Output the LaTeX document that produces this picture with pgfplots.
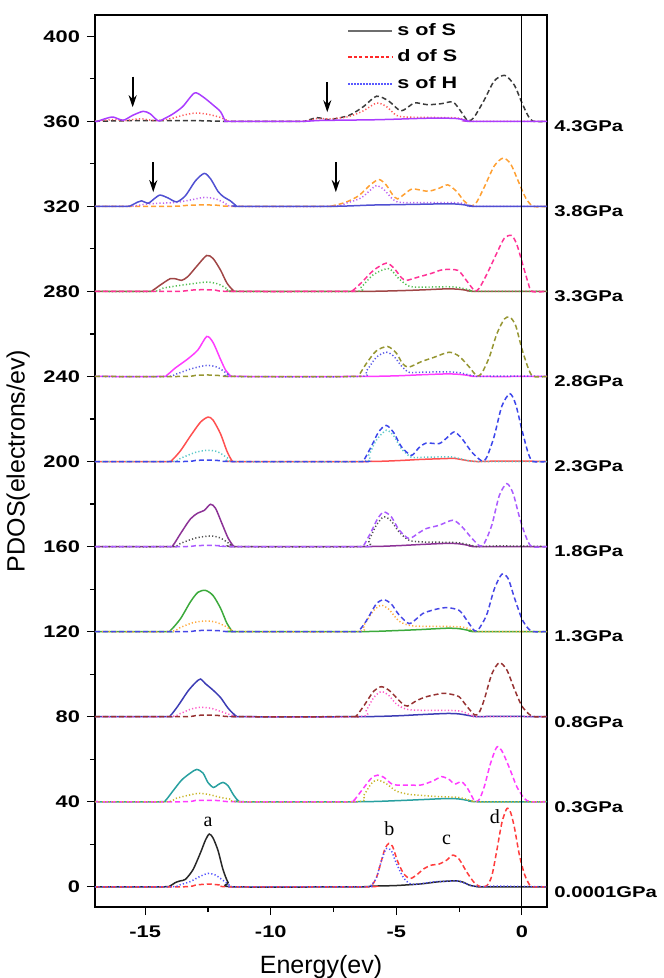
\documentclass[border=0pt]{standalone}
\usepackage{pgfplots}
\pgfplotsset{compat=1.18}
\usepackage{fontspec}
\setmainfont{Liberation Sans}
\newfontfamily\boldwide[FakeStretch=1.3]{Liberation Sans Bold}
\newfontfamily\serifl{Liberation Serif}
\usetikzlibrary{arrows.meta}
\definecolor{c0s}{RGB}{40,40,40}\definecolor{c0d}{RGB}{255,60,60}\definecolor{c0h}{RGB}{80,80,255}
\definecolor{c1s}{RGB}{40,160,160}\definecolor{c1d}{RGB}{255,60,255}\definecolor{c1h}{RGB}{200,180,40}
\definecolor{c2s}{RGB}{60,60,180}\definecolor{c2d}{RGB}{150,50,50}\definecolor{c2h}{RGB}{255,90,200}
\definecolor{c3s}{RGB}{60,170,60}\definecolor{c3d}{RGB}{70,70,230}\definecolor{c3h}{RGB}{255,170,60}
\definecolor{c4s}{RGB}{140,50,150}\definecolor{c4d}{RGB}{170,90,255}\definecolor{c4h}{RGB}{80,80,80}
\definecolor{c5s}{RGB}{255,80,80}\definecolor{c5d}{RGB}{60,70,235}\definecolor{c5h}{RGB}{90,200,200}
\definecolor{c6s}{RGB}{255,60,255}\definecolor{c6d}{RGB}{150,150,50}\definecolor{c6h}{RGB}{90,90,230}
\definecolor{c7s}{RGB}{160,70,70}\definecolor{c7d}{RGB}{255,50,150}\definecolor{c7h}{RGB}{80,190,80}
\definecolor{c8s}{RGB}{80,80,210}\definecolor{c8d}{RGB}{255,160,50}\definecolor{c8h}{RGB}{190,100,240}
\definecolor{c9s}{RGB}{170,60,255}\definecolor{c9d}{RGB}{60,60,60}\definecolor{c9h}{RGB}{255,90,90}
\definecolor{legS}{RGB}{110,110,110}\definecolor{legD}{RGB}{255,40,40}\definecolor{legH}{RGB}{90,90,255}
\pgfplotsset{
  sS/.style={solid, line width=0.75pt, smooth, tension=0.45},
  dS/.style={line width=0.75pt, dash pattern=on 2.5pt off 1.5pt, smooth, tension=0.45},
  sH/.style={line width=0.75pt, dash pattern=on 0.6pt off 1.1pt, smooth, tension=0.45},
  off/.style={y filter/.expression={y+#1}},
}
\tikzset{
  plab/.style={anchor=west, inner sep=0pt, xshift=3.5pt, yshift=-2.5pt, font=\boldwide\fontsize{7.8}{9.4}\selectfont},
  plet/.style={font=\serifl\fontsize{10}{12}\selectfont},
  parr/.style={line width=1pt, -{Stealth[length=6pt,width=4pt]}},
}
\begin{document}
\begin{tikzpicture}
\begin{axis}[
  scale only axis, width=226pt, height=446pt,
  xmin=-17, xmax=1, ymin=-9.5, ymax=410,
  clip=false,
  axis line style={line width=1pt},
  xtick={-15,-10,-5,0}, ytick={0,40,...,400},
  minor x tick num=1, minor y tick num=1,
  tick pos=left, tick align=outside,
  major tick length=4pt, minor tick length=2.5pt,
  every tick/.style={line width=0.6pt, black},
  /pgf/number format/assume math mode=true,
  ticklabel style={font=\boldwide\fontsize{8.4}{10}\selectfont},
  xticklabel style={yshift=-2pt},
  xlabel={Energy(ev)}, ylabel={PDOS(electrons/ev)},
  label style={font=\fontsize{12.5}{15}\selectfont},
  xlabel style={yshift=-2pt},
  legend style={draw=none, fill=none, at={(0.553,0.998)}, anchor=north west,
    font=\boldwide\fontsize{8.3}{10}\selectfont, row sep=1.8pt, inner sep=1pt},
  legend cell align=left,
  legend image code/.code={\draw[#1] (0pt,0pt) -- (22pt,0pt);},
]
\addlegendimage{legS, line width=1pt}
\addlegendentry{s of S}
\addlegendimage{legD, line width=0.9pt, dash pattern=on 1.6pt off 1.1pt}
\addlegendentry{d of S}
\addlegendimage{legH, line width=0.9pt, dash pattern=on 0.6pt off 0.9pt}
\addlegendentry{s of H}
% ---- 0.0001 GPa (offset 0)
\addplot[sS, c0s, forget plot] coordinates {(-17,0) (-14.3,0) (-14.0,0.5) (-13.8,2) (-13.6,2.8) (-13.4,3.5) (-13.1,8) (-12.8,16) (-12.6,22) (-12.45,24.8) (-12.3,23) (-12.1,17) (-11.9,8) (-11.7,2) (-11.5,0) (-6.5,0) (-6,0.3) (-5,0.6) (-4,1.4) (-3.3,2.4) (-2.6,2.8) (-2.3,2.0) (-2.1,0.8) (-1.8,0.1) (-1.5,0) (1,0)};
\addplot[dS, c0d, forget plot] coordinates {(-17,0) (-13.5,0) (-13.0,0.8) (-12.5,1.3) (-12.0,0.8) (-11.6,0) (-6.2,0) (-6.0,0.5) (-5.8,4) (-5.6,12) (-5.45,18) (-5.3,20.4) (-5.15,19) (-4.95,12) (-4.7,6) (-4.45,3.9) (-4.2,5.5) (-3.9,8.5) (-3.6,10.2) (-3.3,10.7) (-3.0,12.5) (-2.75,14.9) (-2.5,13) (-2.2,7) (-1.9,2) (-1.65,0) (-1.4,0.5) (-1.2,5) (-1.0,17) (-0.8,30) (-0.6,36.8) (-0.45,35) (-0.3,28) (-0.1,15) (0.1,6) (0.3,1) (0.45,0) (1,0)};
\addplot[sH, c0h, forget plot] coordinates {(-17,0) (-14.0,0) (-13.6,1) (-13.2,2.5) (-12.8,5) (-12.5,6.3) (-12.2,5.5) (-11.9,3) (-11.6,0.5) (-11.4,0) (-6.3,0) (-6.0,0.8) (-5.8,4) (-5.6,12) (-5.4,18) (-5.2,17) (-5.0,11) (-4.7,4) (-4.4,1.2) (-4.0,1.5) (-3.5,2.3) (-3.0,2.6) (-2.6,2.8) (-2.3,1.8) (-2.0,0.5) (-1.7,0.1) (-1,0.3) (0,0.2) (1,0)};
% ---- 0.3 GPa (offset 40)
\addplot[sS, c1s, off=40, forget plot] coordinates {(-17,0) (-14.4,0) (-14.2,0.5) (-13.9,5) (-13.55,10.2) (-13.2,13.5) (-12.95,15.2) (-12.7,13.5) (-12.5,9) (-12.28,6.7) (-12.1,8) (-11.9,9.1) (-11.7,7.5) (-11.5,3.5) (-11.3,0.5) (-11.1,0) (-6.5,0) (-5,0.5) (-4,1) (-3,1.5) (-2.5,1.3) (-2.0,0.3) (-1.8,0) (1,0)};
\addplot[dS, c1d, off=40, forget plot] coordinates {(-17,0) (-13.5,0) (-13,0.6) (-12.5,0.7) (-12,0.5) (-11.4,0) (-6.9,0) (-6.7,0.5) (-6.4,5) (-6.0,11) (-5.75,12.5) (-5.5,11.5) (-5.2,8.5) (-4.95,7.8) (-4.5,7.8) (-4.0,7.9) (-3.5,10) (-3.2,11.8) (-2.9,10.5) (-2.68,8.3) (-2.4,9.4) (-2.15,6) (-1.88,0.3) (-1.7,1) (-1.5,7) (-1.25,18) (-1.0,25.7) (-0.8,24) (-0.5,16) (-0.2,7) (0.1,1.5) (0.35,0) (1,0)};
\addplot[sH, c1h, off=40, forget plot] coordinates {(-17,0) (-14.2,0) (-13.8,1.5) (-13.3,3) (-12.9,3.9) (-12.5,3.5) (-12.0,2) (-11.6,1.2) (-11.2,0) (-6.6,0) (-6.3,3) (-6.0,8.5) (-5.75,10.2) (-5.4,8.5) (-5.0,5) (-4.5,3.5) (-4.0,3) (-3.5,2.5) (-3.0,2.3) (-2.5,2) (-2.0,0.5) (-1.8,0) (1,0)};
% ---- 0.8 GPa (offset 80)
\addplot[sS, c2s, off=80, forget plot] coordinates {(-17,0) (-14.2,0) (-14.0,0.5) (-13.7,5) (-13.3,12) (-13.0,16) (-12.8,17.7) (-12.6,15.5) (-12.3,12.5) (-12.0,9) (-11.7,4) (-11.4,0.5) (-11.2,0) (-6.5,0) (-5,0.4) (-4,1.0) (-3,1.5) (-2.5,1.3) (-2.0,0.3) (-1.8,0) (-1,0.2) (0,0.1) (1,0)};
\addplot[sH, c2h, off=80, forget plot] coordinates {(-17,0) (-14.1,0) (-13.6,1.5) (-13.2,3.5) (-12.8,4.4) (-12.4,4) (-12.0,2.5) (-11.5,0.5) (-11.2,0) (-6.5,0) (-6.2,3) (-5.9,9) (-5.6,11.8) (-5.3,10) (-5.0,6) (-4.6,3.5) (-4.0,3) (-3.0,3) (-2.4,2.5) (-2.0,0.5) (-1.8,0) (1,0)};
\addplot[dS, c2d, off=80, forget plot] coordinates {(-17,0) (-13.5,0) (-13,0.5) (-12.6,0.8) (-12,0.5) (-11.4,0) (-6.8,0) (-6.6,0.3) (-6.3,5) (-5.9,12) (-5.6,14.1) (-5.3,12.5) (-5.0,9) (-4.75,6) (-4.55,5) (-4.2,7.5) (-3.8,9.4) (-3.15,11) (-2.8,10.5) (-2.5,9.4) (-2.2,5) (-1.88,0.8) (-1.7,2) (-1.5,8) (-1.2,20) (-0.9,25.4) (-0.6,22) (-0.3,13) (0,5) (0.3,1) (0.45,0) (1,0)};
% ---- 1.3 GPa (offset 120)
\addplot[sS, c3s, off=120, forget plot] coordinates {(-17,0) (-14.2,0) (-14.0,0.5) (-13.6,6) (-13.2,14) (-12.9,18.5) (-12.6,19.4) (-12.3,17) (-12.0,11) (-11.75,4) (-11.55,0.5) (-11.4,0) (-6.5,0) (-5,0.5) (-4,1.0) (-3,1.6) (-2.5,1.4) (-2.0,0.3) (-1.8,0) (1,0)};
\addplot[sH, c3h, off=120, forget plot] coordinates {(-17,0) (-14.1,0) (-13.6,2) (-13.1,4.2) (-12.6,5) (-12.2,4.5) (-11.8,2.5) (-11.5,0.3) (-11.3,0) (-6.6,0) (-6.3,3) (-5.9,10) (-5.6,12.4) (-5.3,10.5) (-4.9,5) (-4.5,3) (-4.0,2.5) (-3.0,2.5) (-2.3,2) (-1.9,0.3) (-1.7,0) (1,0)};
\addplot[dS, c3d, off=120, forget plot] coordinates {(-17,0) (-13.5,0) (-13,0.4) (-12.6,0.6) (-12,0.4) (-11.5,0) (-6.7,0) (-6.5,0.3) (-6.2,5) (-5.8,13) (-5.5,15) (-5.2,13) (-4.9,8) (-4.5,3.8) (-4.2,6) (-3.95,8.5) (-3.5,10.3) (-3.0,11.3) (-2.5,10) (-2.2,5.5) (-1.88,0.3) (-1.7,1.5) (-1.4,8) (-1.1,20) (-0.8,27) (-0.55,25) (-0.3,16) (0,6) (0.25,1.5) (0.45,0) (1,0)};
% ---- 1.8 GPa (offset 160)
\addplot[sS, c4s, off=160, forget plot] coordinates {(-17,0) (-14.1,0) (-13.9,0.5) (-13.6,6) (-13.2,13) (-12.9,15.8) (-12.65,17) (-12.4,19.9) (-12.2,18) (-11.95,11) (-11.7,4) (-11.5,0.5) (-11.35,0) (-6.3,0) (-5,0.4) (-4,1.0) (-3,1.5) (-2.5,1.3) (-2.0,0.3) (-1.8,0) (1,0)};
\addplot[sH, c4h, off=160, forget plot] coordinates {(-17,0) (-14.0,0) (-13.6,1.5) (-13.0,4) (-12.4,5) (-12.0,4) (-11.6,1) (-11.4,0) (-6.4,0) (-6.1,3) (-5.8,10) (-5.5,14) (-5.2,12) (-4.9,7) (-4.5,3) (-4.0,2.2) (-3.0,2) (-2.5,1.8) (-2.0,0.5) (-1.8,0) (-1,0.3) (0,0.2) (1,0)};
\addplot[dS, c4d, off=160, forget plot] coordinates {(-17,0) (-13.5,0) (-13,0.4) (-12.4,0.6) (-11.9,0.3) (-11.5,0) (-6.4,0) (-6.3,0.5) (-6.0,7) (-5.75,13) (-5.5,16.3) (-5.2,14) (-4.9,8) (-4.5,3.8) (-4.1,6.5) (-3.8,8.5) (-3.3,10) (-2.75,12.4) (-2.4,9.5) (-2.0,4) (-1.68,0.3) (-1.5,1.5) (-1.2,10) (-0.9,24) (-0.6,29.6) (-0.35,25) (-0.1,14) (0.15,5) (0.39,0) (1,0)};
% ---- 2.3 GPa (offset 200)
\addplot[sS, c5s, off=200, forget plot] coordinates {(-17,0) (-14.15,0) (-13.95,0.5) (-13.6,5) (-13.2,12) (-12.8,18.5) (-12.5,20.9) (-12.3,19.5) (-12.0,13) (-11.75,5) (-11.55,0.5) (-11.4,0) (-6.3,0) (-5,0.4) (-4,1.0) (-3,1.4) (-2.7,1.5) (-2.2,0.5) (-1.8,0) (-1,0.2) (0,0.2) (1,0)};
\addplot[sH, c5h, off=200, forget plot] coordinates {(-17,0) (-14.0,0) (-13.6,1.5) (-13.0,4.3) (-12.5,5.3) (-12.1,4.5) (-11.7,1.5) (-11.4,0) (-6.4,0) (-6.1,3) (-5.8,10) (-5.4,14.7) (-5.1,12) (-4.8,6) (-4.4,2) (-4.0,2) (-3.0,2.2) (-2.7,2.0) (-2.2,0.6) (-1.8,0) (1,0)};
\addplot[dS, c5d, off=200, forget plot] coordinates {(-17,0) (-13.5,0) (-13,0.5) (-12.5,0.7) (-12,0.4) (-11.5,0) (-6.4,0) (-6.3,0.5) (-6.0,7) (-5.7,14) (-5.4,17) (-5.1,13.5) (-4.8,7) (-4.4,2.9) (-4.1,6.5) (-3.8,8.7) (-3.3,8.4) (-3.0,11) (-2.7,13.9) (-2.4,11) (-2.0,4.5) (-1.6,0.3) (-1.4,2) (-1.1,12) (-0.8,26) (-0.48,31.9) (-0.25,27) (0,15) (0.25,4) (0.45,0) (1,0)};
% ---- 2.8 GPa (offset 240)
\addplot[sS, c6s, off=240, forget plot] coordinates {(-17,0) (-14.35,0) (-14.15,0.5) (-13.8,4) (-13.3,8.3) (-12.9,12.5) (-12.55,18.8) (-12.3,16) (-12.0,8) (-11.8,3) (-11.6,0.3) (-11.45,0) (-6.5,0) (-5,0.3) (-4,0.8) (-3,1.2) (-2.5,1) (-2.0,0.3) (-1.8,0) (1,0)};
\addplot[sH, c6h, off=240, forget plot] coordinates {(-17,0) (-14.2,0) (-13.8,1) (-13.2,3.5) (-12.55,5.2) (-12.1,4.2) (-11.7,1) (-11.5,0) (-6.5,0) (-6.2,2.5) (-5.8,9) (-5.4,11.4) (-5.1,9.5) (-4.8,5) (-4.5,2) (-4.0,2) (-3.0,2.2) (-2.5,1.8) (-2.0,0.4) (-1.8,0) (-1,0.2) (0,0.2) (1,0)};
\addplot[dS, c6d, off=240, forget plot] coordinates {(-17,0) (-13.5,0) (-13,0.5) (-12.5,0.7) (-12,0.4) (-11.5,0) (-6.7,0) (-6.5,0.5) (-6.2,6) (-5.8,12) (-5.35,14.1) (-5.0,11) (-4.75,6) (-4.5,4.4) (-4.0,7) (-3.5,9) (-2.9,11.4) (-2.5,9.5) (-2.1,4.5) (-1.8,0.3) (-1.6,1.5) (-1.3,9) (-1.0,20) (-0.7,27) (-0.48,27.9) (-0.25,24) (0,13) (0.25,4) (0.45,0) (1,0)};
% ---- 3.3 GPa (offset 280)
\addplot[sS, c7s, off=280, forget plot] coordinates {(-17,0) (-14.9,0) (-14.7,0.5) (-14.4,3) (-14.0,6) (-13.75,5.8) (-13.55,5.2) (-13.3,7) (-12.9,12.5) (-12.55,16.9) (-12.3,15.5) (-12.0,10) (-11.75,4) (-11.5,0.5) (-11.35,0) (-6.5,0) (-5,0.3) (-4,0.7) (-3,1.2) (-2.5,1.0) (-2.0,0.2) (-1.8,0) (1,0)};
\addplot[sH, c7h, off=280, forget plot] coordinates {(-17,0) (-14.7,0) (-14.3,1.5) (-13.8,2.5) (-13.2,3.5) (-12.55,4.4) (-12.1,3.5) (-11.7,1) (-11.5,0) (-6.7,0) (-6.4,2) (-5.9,8) (-5.3,10.7) (-4.9,6) (-4.5,2.5) (-4.0,2) (-3.0,2.2) (-2.5,1.8) (-2.0,0.4) (-1.8,0) (1,0)};
\addplot[dS, c7d, off=280, forget plot] coordinates {(-17,0) (-13.8,0) (-13.2,0.6) (-12.7,0.8) (-12.2,0.6) (-11.6,0) (-6.9,0) (-6.75,0.3) (-6.4,4) (-5.9,10) (-5.4,13.3) (-5.1,11) (-4.8,6.5) (-4.6,5.2) (-4.2,6.5) (-3.6,8.5) (-3.15,10.2) (-2.55,9.9) (-2.2,5) (-1.88,0.3) (-1.7,1.5) (-1.4,8) (-1.0,18) (-0.7,25) (-0.41,26.3) (-0.2,22) (0.05,12) (0.25,4) (0.4,0) (1,0)};
% ---- 3.8 GPa (offset 320)
\addplot[dS, c8d, off=320, forget plot] coordinates {(-17,0) (-14.0,0) (-13.3,0.5) (-12.7,0.7) (-12.1,0.5) (-11.5,0) (-7.7,0) (-7.55,0.2) (-7.0,2) (-6.5,5) (-6.0,10.5) (-5.68,12.6) (-5.4,10) (-5.15,5.5) (-4.95,3.5) (-4.65,6) (-4.35,8.2) (-3.75,7.1) (-3.3,8.5) (-2.95,10.1) (-2.6,7) (-2.3,2.5) (-2.01,0.2) (-1.8,2) (-1.5,9) (-1.1,19) (-0.75,22.7) (-0.45,20) (-0.15,12) (0.15,4) (0.45,0) (1,0)};
\addplot[sH, c8h, off=320, forget plot] coordinates {(-17,0) (-15.6,0) (-15.0,1) (-14.4,1.5) (-13.8,1.8) (-13.2,3) (-12.65,4.2) (-12.2,3.5) (-11.8,1.5) (-11.4,0) (-7.6,0) (-7.0,1.5) (-6.4,4) (-6.0,8) (-5.79,9.8) (-5.5,8) (-5.2,4) (-4.95,2) (-4.5,1.8) (-3.0,1.8) (-2.4,1.5) (-2.1,0.3) (-1.9,0) (1,0)};
\addplot[sS, c8s, off=320, forget plot] coordinates {(-17,0) (-15.75,0) (-15.55,0.5) (-15.3,2) (-15.15,2.6) (-14.88,1.5) (-14.65,3.5) (-14.41,5.3) (-14.1,4) (-13.75,2.1) (-13.4,5) (-13.0,12) (-12.65,15.5) (-12.4,13) (-12.1,7) (-11.88,4.5) (-11.6,2.5) (-11.4,0.5) (-11.25,0) (-7.6,0) (-6,0.6) (-5,0.8) (-4,1) (-3,1.2) (-2.5,1.0) (-2.0,0.2) (-1.8,0) (1,0)};
% ---- 4.3 GPa (offset 360)
\addplot[dS, c9d, off=360, forget plot] coordinates {(-17,0) (-15.5,0.3) (-13,0.3) (-11.8,0) (-8.8,0) (-8.61,0.2) (-8.15,1.7) (-7.68,0.8) (-6.88,2.8) (-6.3,7) (-5.79,11.8) (-5.3,9.5) (-4.81,4.9) (-4.28,8.6) (-3.75,7.8) (-3.2,8.3) (-2.75,9.1) (-2.45,5) (-2.15,0.2) (-1.9,2) (-1.5,10) (-1.1,19) (-0.68,21.6) (-0.3,17) (-0.01,9) (0.25,2.5) (0.45,0) (1,0)};
\addplot[sH, c9h, off=360, forget plot] coordinates {(-17,0) (-16.6,0.5) (-16.2,0.8) (-15.8,0.3) (-15.2,1.2) (-14.6,0.3) (-14.0,1.2) (-13.5,2.8) (-13.0,3.9) (-12.5,3.3) (-12.0,1.8) (-11.7,0.3) (-11.5,0) (-8.8,0) (-8.2,1.2) (-7.6,1.2) (-6.9,2.2) (-6.3,5) (-5.79,8.6) (-5.4,7) (-5.0,2.8) (-4.6,2) (-3.5,1.8) (-2.6,1.6) (-2.2,0.3) (-2.0,0) (1,0)};
\addplot[sS, c9s, off=360, forget plot] coordinates {(-17,0) (-16.9,0) (-16.6,1.2) (-16.28,2.0) (-15.88,0.5) (-15.5,2.8) (-15.08,4.7) (-14.8,3.5) (-14.48,0.2) (-14.2,1.5) (-13.88,3.6) (-13.5,7) (-13.04,13.3) (-12.7,11.5) (-12.28,7.5) (-12.0,4.5) (-11.81,0.3) (-11.6,0) (-8.8,0) (-8.0,0.4) (-6,0.7) (-5,1.0) (-4.5,1.2) (-3.5,1.5) (-2.6,1.3) (-2.15,0.2) (-2.0,0) (1,0)};
% ---- vertical line at 0
\addplot[black, line width=0.6pt, forget plot] coordinates {(0,-9.5) (0,410)};
% ---- arrows
\draw[parr] (axis cs:-15.5,381) -- (axis cs:-15.5,366.6);
\draw[parr] (axis cs:-7.75,378.4) -- (axis cs:-7.75,364.3);
\draw[parr] (axis cs:-14.68,340.8) -- (axis cs:-14.68,326.7);
\draw[parr] (axis cs:-7.41,340.8) -- (axis cs:-7.41,326.7);
% ---- peak letters
\node[plet] at (axis cs:-12.5,30.5) {a};
\node[plet] at (axis cs:-5.28,27.4) {b};
\node[plet] at (axis cs:-3.0,21.9) {c};
\node[plet] at (axis cs:-1.08,32.9) {d};
% ---- pressure labels
\node[plab] at (axis cs:1,360) {4.3GPa};
\node[plab] at (axis cs:1,320) {3.8GPa};
\node[plab] at (axis cs:1,280) {3.3GPa};
\node[plab] at (axis cs:1,240) {2.8GPa};
\node[plab] at (axis cs:1,200) {2.3GPa};
\node[plab] at (axis cs:1,160) {1.8GPa};
\node[plab] at (axis cs:1,120) {1.3GPa};
\node[plab] at (axis cs:1,80) {0.8GPa};
\node[plab] at (axis cs:1,40) {0.3GPa};
\node[plab] at (axis cs:1,0) {0.0001GPa};
\end{axis}
\pgfresetboundingbox
\path (-47.5pt,-35.5pt) rectangle (284pt,453.5pt);
\end{tikzpicture}
\end{document}
